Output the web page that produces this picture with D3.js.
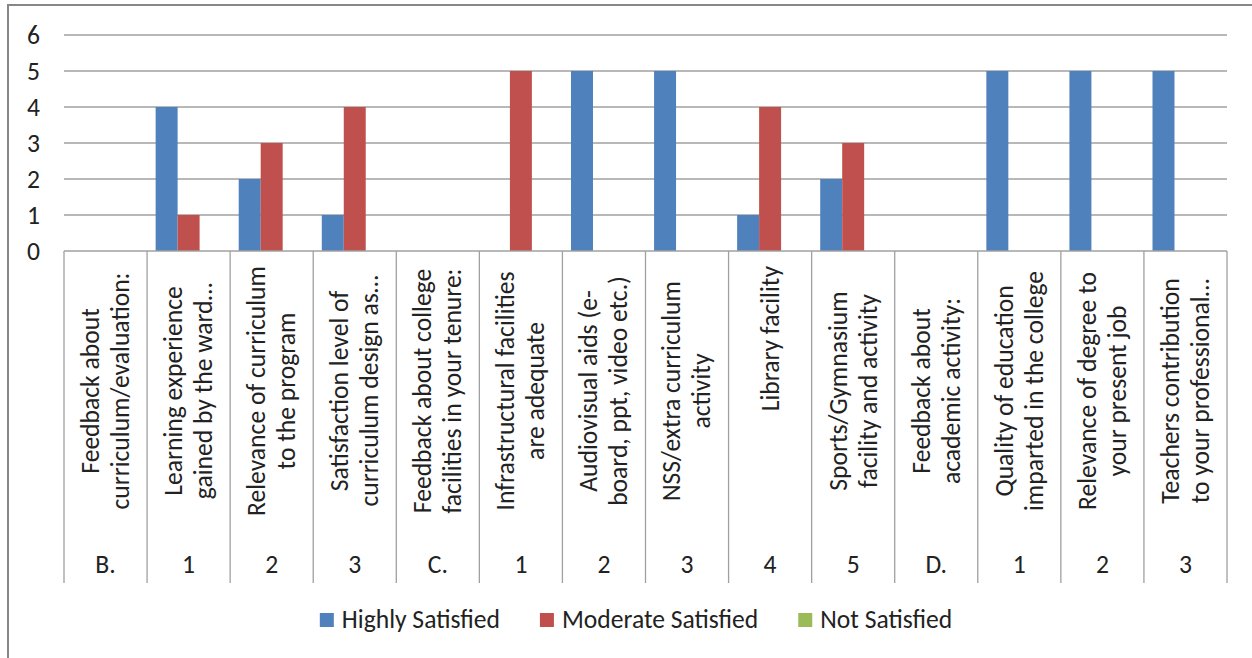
<!DOCTYPE html>
<html>
<head>
<meta charset="utf-8">
<script src="https://cdn.jsdelivr.net/npm/d3@7"></script>
<style>
  html, body { margin: 0; padding: 0; background: #fff; }
  svg { display: block; }
</style>
</head>
<body>
<svg id="chart" width="1252" height="658"></svg>
<script>
// ---------------- data ----------------
const categoryLabels = [
  ["Feedback about", "curriculum/evaluation:"],
  ["Learning experience", "gained by the ward\u2026"],
  ["Relevance of curriculum", "to the program"],
  ["Satisfaction level of", "curriculum design as\u2026"],
  ["Feedback about college", "facilities in your tenure:"],
  ["Infrastructural facilities", "are adequate"],
  ["Audiovisual aids (e-", "board, ppt, video etc.)"],
  ["NSS/extra curriculum", "activity"],
  ["Library facility"],
  ["Sports/Gymnasium", "facility and activity"],
  ["Feedback about", "academic activity:"],
  ["Quality of education", "imparted in the college"],
  ["Relevance of degree to", "your present job"],
  ["Teachers contribution", "to your professional\u2026"]
];
const groupLabels = ["B.", "1", "2", "3", "C.", "1", "2", "3", "4", "5", "D.", "1", "2", "3"];
const seriesNames = ["Highly Satisfied", "Moderate Satisfied", "Not Satisfied"];
const highlySatisfied   = [0, 4, 2, 1, 0, 0, 5, 5, 1, 2, 0, 5, 5, 5];
const moderateSatisfied = [0, 1, 3, 4, 0, 5, 0, 0, 4, 3, 0, 0, 0, 0];
const notSatisfied      = [0, 0, 0, 0, 0, 0, 0, 0, 0, 0, 0, 0, 0, 0];
const yTicks = [0, 1, 2, 3, 4, 5, 6];
const seriesColors = ["#4F81BD", "#C0504D", "#9BBB59"];

// ---------------- layout ----------------
const svg = d3.select("#chart");
const FONT = "Carlito, Calibri, Lato, sans-serif";
const plot = { left: 64, right: 1227, top: 35, bottom: 251 };
const axisBottom = 583;
const gridColor = "#A0A0A0";

// fit font size to the reference text width
const probe = svg.append("text").attr("font-family", FONT).attr("font-size", 100)
  .text("curriculum/evaluation:");
const probeW = probe.node().getComputedTextLength();
probe.remove();
const fs = 100 * 237 / probeW;

const idx = d3.range(categoryLabels.length);
const x = d3.scaleBand().domain(idx).range([plot.left, plot.right]).padding(0);
const xs = d3.scaleBand().domain(d3.range(seriesNames.length))
  .range([0, x.bandwidth()]).paddingInner(0).paddingOuter(0.39);
const y = d3.scaleLinear().domain([0, 6]).range([plot.bottom, plot.top]);

// outer chart border
svg.append("rect")
  .attr("x", 8).attr("y", 5).attr("width", 1260).attr("height", 680)
  .attr("fill", "none").attr("stroke", "#878787").attr("stroke-width", 2);

// gridlines
svg.append("g").selectAll("line").data(yTicks.filter(d => d > 0)).join("line")
  .attr("x1", plot.left).attr("x2", plot.right)
  .attr("y1", d => y(d)).attr("y2", d => y(d))
  .attr("stroke", gridColor).attr("stroke-width", 1.3);

// y tick labels
svg.append("g").selectAll("text").data(yTicks).join("text")
  .attr("x", 40).attr("y", d => y(d)).attr("dy", "0.34em")
  .attr("text-anchor", "end")
  .attr("font-family", FONT).attr("font-size", fs).attr("fill", "#222")
  .text(d => d);

// bars
const seriesData = [highlySatisfied, moderateSatisfied, notSatisfied];
const gBars = svg.append("g");
seriesData.forEach((vals, si) => {
  gBars.append("g").selectAll("rect").data(vals).join("rect")
    .attr("x", (d, i) => x(i) + xs(si))
    .attr("width", xs.bandwidth())
    .attr("y", d => y(d))
    .attr("height", d => y(0) - y(d))
    .attr("fill", seriesColors[si]);
});

// category axis line and box ticks
svg.append("line")
  .attr("x1", plot.left).attr("x2", plot.right)
  .attr("y1", plot.bottom).attr("y2", plot.bottom)
  .attr("stroke", gridColor).attr("stroke-width", 1.3);
const bounds = idx.map(i => x(i)).concat([plot.right]);
svg.append("g").selectAll("line").data(bounds).join("line")
  .attr("x1", d => d).attr("x2", d => d)
  .attr("y1", plot.bottom).attr("y2", axisBottom)
  .attr("stroke", gridColor).attr("stroke-width", 1.3);

// rotated category labels
const lineH = 30;
const labelCenterY = 391;
const gLab = svg.append("g");
categoryLabels.forEach((lines, i) => {
  const cx = x(i) + x.bandwidth() / 2;
  const single = lines.length === 1;
  const ay = single ? 266 : labelCenterY;
  const t = gLab.append("text")
    .attr("transform", `translate(${cx},${ay}) rotate(-90)`)
    .attr("text-anchor", single ? "end" : "middle")
    .attr("font-family", FONT).attr("font-size", fs).attr("fill", "#222");
  lines.forEach((ln, li) => {
    t.append("tspan")
      .attr("x", 0)
      .attr("y", (li - (lines.length - 1) / 2) * lineH)
      .attr("dy", "0.33em")
      .text(ln);
  });
});

// group (number) labels
svg.append("g").selectAll("text").data(groupLabels).join("text")
  .attr("x", (d, i) => x(i) + x.bandwidth() / 2)
  .attr("y", 573)
  .attr("text-anchor", "middle")
  .attr("font-family", FONT).attr("font-size", fs).attr("fill", "#222")
  .text(d => d);

// legend
const gLeg = svg.append("g");
const sw = 14, swGap = 8, itemGap = 40;
let cursor = 0;
const items = seriesNames.map((name, i) => {
  const g = gLeg.append("g");
  g.append("rect").attr("x", 0).attr("y", -7).attr("width", sw).attr("height", sw)
    .attr("fill", seriesColors[i]);
  const tx = g.append("text").attr("x", sw + swGap).attr("y", 0).attr("dy", "0.33em")
    .attr("font-family", FONT).attr("font-size", fs).attr("fill", "#222").text(name);
  const w = sw + swGap + tx.node().getComputedTextLength();
  g.attr("data-x", cursor);
  const item = { g, x: cursor };
  cursor += w + itemGap;
  return item;
});
const totalW = cursor - itemGap;
const legStart = 636 - totalW / 2;
items.forEach(it => it.g.attr("transform", `translate(${legStart + it.x},620)`));
</script>
</body>
</html>
